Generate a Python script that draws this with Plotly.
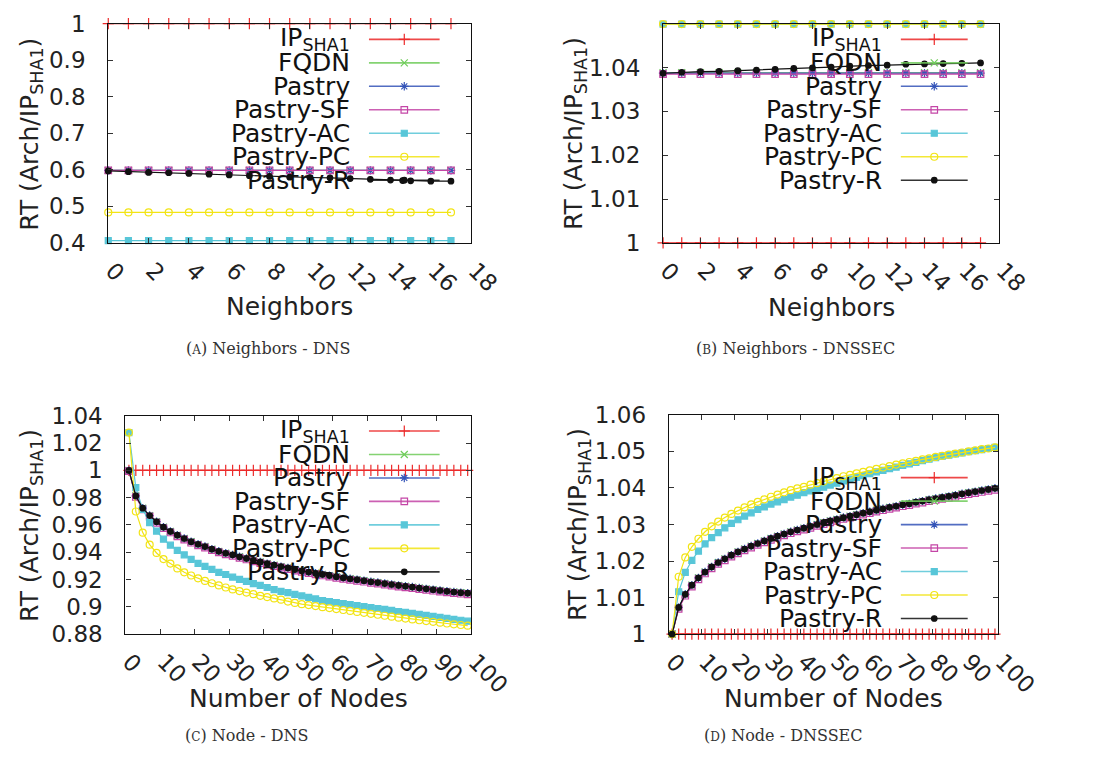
import plotly.graph_objects as go

W, H = 1109, 765

# ---------------- data ----------------
series_names = ["IP<sub>SHA1</sub>", "FQDN", "Pastry", "Pastry-SF", "Pastry-AC", "Pastry-PC", "Pastry-R"]

neighbors = [0, 1, 2, 3, 4, 5, 6, 7, 8, 9, 10, 11, 12, 13, 14, 15, 16, 17]
neighbors_r = [0, 1, 2, 3, 4, 5, 6, 7, 8, 9, 10, 11, 12, 13, 14, 14.6, 15, 16, 17]

# (a) Neighbors - DNS
a_ip = [1.0, 1.0, 1.0, 1.0, 1.0, 1.0, 1.0, 1.0, 1.0, 1.0, 1.0, 1.0, 1.0, 1.0, 1.0, 1.0, 1.0, 1.0]
a_pastry = [0.5985, 0.5985, 0.5985, 0.5985, 0.5985, 0.5985, 0.5985, 0.5985, 0.5985,
            0.5985, 0.5985, 0.5985, 0.5985, 0.5985, 0.5985, 0.5985, 0.5985, 0.5985]
a_ac = [0.406, 0.406, 0.406, 0.406, 0.406, 0.406, 0.406, 0.406, 0.406,
        0.406, 0.406, 0.406, 0.406, 0.406, 0.406, 0.406, 0.406, 0.406]
a_pc = [0.4835, 0.4835, 0.4835, 0.4835, 0.4835, 0.4835, 0.4835, 0.4835, 0.4835,
        0.4835, 0.4835, 0.4835, 0.4835, 0.4835, 0.4835, 0.4835, 0.4835, 0.4835]
a_r = [0.597, 0.595, 0.593, 0.592, 0.590, 0.588, 0.586, 0.584, 0.582, 0.580,
       0.579, 0.578, 0.576, 0.574, 0.572, 0.5705, 0.570, 0.569, 0.569]

# (b) Neighbors - DNSSEC
b_ip = [1.0, 1.0, 1.0, 1.0, 1.0, 1.0, 1.0, 1.0, 1.0, 1.0, 1.0, 1.0, 1.0, 1.0, 1.0, 1.0, 1.0, 1.0]
b_fqdn = [1.0388, 1.0388, 1.0388, 1.0388, 1.0388, 1.0388, 1.0388, 1.0388, 1.0388,
          1.0388, 1.0388, 1.0388, 1.0388, 1.0388, 1.0388, 1.0388, 1.0388, 1.0388]
b_pastry = [1.0387, 1.0387, 1.0387, 1.0387, 1.0387, 1.0387, 1.0387, 1.0387, 1.0387,
            1.0387, 1.0387, 1.0387, 1.0387, 1.0387, 1.0387, 1.0387, 1.0387, 1.0387]
b_sf = [1.0385, 1.0385, 1.0385, 1.0385, 1.0385, 1.0385, 1.0385, 1.0385, 1.0385,
        1.0385, 1.0385, 1.0385, 1.0385, 1.0385, 1.0385, 1.0385, 1.0385, 1.0385]
b_acpc = [1.0499, 1.0499, 1.0499, 1.0499, 1.0499, 1.0499, 1.0499, 1.0499, 1.0499,
          1.0499, 1.0499, 1.0499, 1.0499, 1.0499, 1.0499, 1.0499, 1.0499, 1.0499]
b_r = [1.03869, 1.03891, 1.03905, 1.03913, 1.03927, 1.03942, 1.03957, 1.03979, 1.03993,
       1.04008, 1.04030, 1.04045, 1.04052, 1.04074, 1.04081, 1.04089, 1.04096, 1.04103]

nodes = [1, 3, 5, 7, 9, 11, 13, 15, 17, 19, 21, 23, 25, 27, 29, 31, 33, 35, 37, 39,
         41, 43, 45, 47, 49, 51, 53, 55, 57, 59, 61, 63, 65, 67, 69, 71, 73, 75, 77, 79,
         81, 83, 85, 87, 89, 91, 93, 95, 97, 99]

# (c) Node - DNS
c_ip = [1.0, 1.0, 1.0, 1.0, 1.0, 1.0, 1.0, 1.0, 1.0, 1.0,
        1.0, 1.0, 1.0, 1.0, 1.0, 1.0, 1.0, 1.0, 1.0, 1.0,
        1.0, 1.0, 1.0, 1.0, 1.0, 1.0, 1.0, 1.0, 1.0, 1.0,
        1.0, 1.0, 1.0, 1.0, 1.0, 1.0, 1.0, 1.0, 1.0, 1.0,
        1.0, 1.0, 1.0, 1.0, 1.0, 1.0, 1.0, 1.0, 1.0, 1.0]
c_pastry = [1.0000, 0.9813, 0.9723, 0.9669, 0.9624, 0.9584, 0.9553, 0.9525, 0.9501, 0.9478,
            0.9459, 0.9442, 0.9423, 0.9407, 0.9393, 0.9381, 0.9367, 0.9355, 0.9341, 0.9329,
            0.9317, 0.9306, 0.9295, 0.9285, 0.9273, 0.9264, 0.9255, 0.9246, 0.9238, 0.9229,
            0.9221, 0.9213, 0.9206, 0.9199, 0.9192, 0.9184, 0.9178, 0.9171, 0.9164, 0.9157,
            0.9151, 0.9145, 0.9138, 0.9132, 0.9126, 0.9120, 0.9114, 0.9109, 0.9104, 0.9100]
c_sf = [0.9995, 0.9805, 0.9715, 0.9661, 0.9616, 0.9576, 0.9545, 0.9517, 0.9493, 0.9470,
        0.9451, 0.9434, 0.9415, 0.9399, 0.9385, 0.9373, 0.9359, 0.9347, 0.9333, 0.9321,
        0.9309, 0.9298, 0.9287, 0.9277, 0.9265, 0.9256, 0.9247, 0.9238, 0.9230, 0.9221,
        0.9213, 0.9205, 0.9198, 0.9191, 0.9184, 0.9176, 0.9170, 0.9163, 0.9156, 0.9149,
        0.9143, 0.9137, 0.9130, 0.9124, 0.9118, 0.9112, 0.9106, 0.9101, 0.9096, 0.9092]
c_ac = [1.0277, 0.9874, 0.9715, 0.9617, 0.9555, 0.9496, 0.9452, 0.9414, 0.9381, 0.9348,
        0.9319, 0.9296, 0.9275, 0.9253, 0.9237, 0.9218, 0.9201, 0.9187, 0.9171, 0.9157,
        0.9142, 0.9126, 0.9114, 0.9104, 0.9091, 0.9080, 0.9069, 0.9058, 0.9046, 0.9039,
        0.9031, 0.9024, 0.9017, 0.9010, 0.9002, 0.8995, 0.8988, 0.8981, 0.8974, 0.8966,
        0.8959, 0.8952, 0.8945, 0.8938, 0.8930, 0.8923, 0.8916, 0.8909, 0.8902, 0.8895]
c_pc = [1.0277, 0.9699, 0.9544, 0.9456, 0.9395, 0.9350, 0.9317, 0.9282, 0.9253, 0.9230,
        0.9209, 0.9190, 0.9173, 0.9157, 0.9142, 0.9128, 0.9116, 0.9105, 0.9093, 0.9081,
        0.9072, 0.9062, 0.9053, 0.9039, 0.9029, 0.9020, 0.9013, 0.9006, 0.8998, 0.8991,
        0.8984, 0.8977, 0.8970, 0.8963, 0.8956, 0.8949, 0.8942, 0.8935, 0.8928, 0.8921,
        0.8914, 0.8908, 0.8902, 0.8896, 0.8890, 0.8884, 0.8878, 0.8872, 0.8867, 0.8862]

# (d) Node - DNSSEC
d_ip = c_ip
d_pastry = [1.0000, 1.0073, 1.0109, 1.0134, 1.0154, 1.0170, 1.0184, 1.0196, 1.0206, 1.0216,
            1.0225, 1.0233, 1.0241, 1.0248, 1.0255, 1.0262, 1.0268, 1.0274, 1.0280, 1.0285,
            1.0290, 1.0295, 1.0300, 1.0305, 1.0310, 1.0314, 1.0319, 1.0323, 1.0327, 1.0331,
            1.0335, 1.0339, 1.0343, 1.0347, 1.0350, 1.0354, 1.0357, 1.0361, 1.0364, 1.0368,
            1.0371, 1.0374, 1.0377, 1.0380, 1.0384, 1.0387, 1.0390, 1.0393, 1.0396, 1.0399]
d_sf = [1.0000, 1.0069, 1.0105, 1.0130, 1.0150, 1.0166, 1.0180, 1.0192, 1.0202, 1.0212,
        1.0221, 1.0229, 1.0237, 1.0244, 1.0251, 1.0258, 1.0264, 1.0270, 1.0276, 1.0281,
        1.0286, 1.0291, 1.0296, 1.0301, 1.0306, 1.0310, 1.0315, 1.0319, 1.0323, 1.0327,
        1.0331, 1.0335, 1.0339, 1.0343, 1.0346, 1.0350, 1.0353, 1.0357, 1.0360, 1.0364,
        1.0367, 1.0370, 1.0373, 1.0376, 1.0380, 1.0383, 1.0386, 1.0389, 1.0392, 1.0395]
d_ac = [1.0000, 1.0116, 1.0169, 1.0202, 1.0227, 1.0247, 1.0264, 1.0278, 1.0291, 1.0303,
        1.0313, 1.0323, 1.0332, 1.0341, 1.0348, 1.0356, 1.0362, 1.0368, 1.0375, 1.0380,
        1.0387, 1.0392, 1.0397, 1.0402, 1.0408, 1.0413, 1.0419, 1.0424, 1.0429, 1.0434,
        1.0439, 1.0444, 1.0448, 1.0453, 1.0457, 1.0462, 1.0466, 1.0470, 1.0475, 1.0479,
        1.0483, 1.0487, 1.0490, 1.0493, 1.0496, 1.0499, 1.0502, 1.0505, 1.0508, 1.0511]
d_pc = [1.0000, 1.0157, 1.0210, 1.0239, 1.0261, 1.0280, 1.0295, 1.0308, 1.0319, 1.0329,
        1.0338, 1.0347, 1.0355, 1.0362, 1.0369, 1.0376, 1.0382, 1.0388, 1.0394, 1.0399,
        1.0403, 1.0409, 1.0413, 1.0418, 1.0423, 1.0427, 1.0432, 1.0436, 1.0440, 1.0444,
        1.0448, 1.0452, 1.0456, 1.0460, 1.0464, 1.0467, 1.0471, 1.0474, 1.0478, 1.0481,
        1.0485, 1.0488, 1.0491, 1.0494, 1.0497, 1.0500, 1.0503, 1.0506, 1.0508, 1.0511]

a_ticks = [0.4, 0.5, 0.6, 0.7, 0.8, 0.9, 1.0]
a_ticktext = ["0.4", "0.5", "0.6", "0.7", "0.8", "0.9", "1"]
b_ticks = [1.0, 1.01, 1.02, 1.03, 1.04]
b_ticktext = ["1", "1.01", "1.02", "1.03", "1.04"]
c_ticks = [0.88, 0.90, 0.92, 0.94, 0.96, 0.98, 1.0, 1.02, 1.04]
c_ticktext = ["0.88", "0.9", "0.92", "0.94", "0.96", "0.98", "1", "1.02", "1.04"]
d_ticks = [1.0, 1.01, 1.02, 1.03, 1.04, 1.05, 1.06]
d_ticktext = ["1", "1.01", "1.02", "1.03", "1.04", "1.05", "1.06"]

captions = ["(<span style='font-size:12px'>A</span>) Neighbors - DNS",
            "(<span style='font-size:12px'>B</span>) Neighbors - DNSSEC",
            "(<span style='font-size:12px'>C</span>) Node - DNS",
            "(<span style='font-size:12px'>D</span>) Node - DNSSEC"]

# ---------------- styles ----------------
COLORS = ["#ec2a2a", "#6fcc5a", "#3454b8", "#c445a6", "#58c6d8", "#f2e414", "#111111"]
SYMBOLS = ["cross-thin-open", "x-thin-open", "asterisk-open", "square-open", "square", "circle-open", "circle"]
SIZES = [8, 7, 7, 6.5, 6, 7, 5.5]
FONT = "DejaVu Sans"


def marker(i):
    c = COLORS[i]
    return dict(symbol=SYMBOLS[i], size=SIZES[i], color=c, line=dict(color=c, width=1.2))


# panel boxes in pixels (left, top, right, bottom)
BOXES = [(105, 11, 485, 238), (686, 11, 1038, 238), (123, 417, 485, 643), (692, 416, 1037, 643)]

fig = go.Figure()

panel_data = [
    (neighbors, [a_ip, a_pastry, a_pastry, a_pastry, a_ac, a_pc], neighbors_r, a_r),
    (neighbors, [b_ip, b_fqdn, b_pastry, b_sf, b_acpc, b_acpc], neighbors, b_r),
    (nodes, [c_ip, c_pastry, c_pastry, c_sf, c_ac, c_pc], nodes, c_pastry),
    (nodes, [d_ip, d_pastry, d_pastry, d_sf, d_ac, d_pc], nodes, d_pastry),
]

for p, (xs, ys_list, rx, ry) in enumerate(panel_data):
    xa = "x" if p == 0 else f"x{p+1}"
    ya = "y" if p == 0 else f"y{p+1}"
    for i, ys in enumerate(ys_list):
        fig.add_trace(go.Scatter(x=xs, y=ys, mode="lines+markers", xaxis=xa, yaxis=ya,
                                 line=dict(color=COLORS[i], width=1.2), marker=marker(i),
                                 cliponaxis=False, showlegend=False, hoverinfo="skip"))
    fig.add_trace(go.Scatter(x=rx, y=ry, mode="lines+markers", xaxis=xa, yaxis=ya,
                             line=dict(color=COLORS[6], width=1.2), marker=marker(6),
                             cliponaxis=False, showlegend=False, hoverinfo="skip"))

# ---------------- axes ----------------
def dom(box):
    l, t, r, b = box
    return [l / W, r / W], [1 - b / H, 1 - t / H]


axis_common = dict(showline=True, linecolor="#111", linewidth=1.3, mirror="ticks",
                   ticks="inside", ticklen=5, tickcolor="#333", tickwidth=1,
                   showgrid=False, zeroline=False,
                   tickfont=dict(family=FONT, size=23, color="#222"))

xranges = [[0, 18], [0, 18], [0, 100], [0, 100]]
xdticks = [2, 2, 10, 10]
yranges = [[0.4, 1.0], [1.0, 1.05], [0.88, 1.04], [1.0, 1.06]]
yticks = [(a_ticks, a_ticktext), (b_ticks, b_ticktext), (c_ticks, c_ticktext), (d_ticks, d_ticktext)]

layout = dict(width=W, height=H, margin=dict(l=0, r=0, t=0, b=0), autosize=False,
              paper_bgcolor="white", plot_bgcolor="rgba(0,0,0,0)", showlegend=False)
for p in range(4):
    xd, yd = dom(BOXES[p])
    sfx = "" if p == 0 else str(p + 1)
    layout["xaxis" + sfx] = dict(axis_common, domain=xd, range=xranges[p], anchor="y" + sfx,
                                 tick0=0, dtick=xdticks[p], tickangle=45,
                                 ticklabelstandoff=4, ticklabelshift=4)
    layout["yaxis" + sfx] = dict(axis_common, domain=yd, range=yranges[p], anchor="x" + sfx,
                                 tickvals=yticks[p][0], ticktext=yticks[p][1], ticklabelstandoff=17)

# overlay pixel axes for the gnuplot-style keys
layout["xaxis5"] = dict(domain=[0, 1], range=[0, W], anchor="y5", visible=False, fixedrange=True)
layout["yaxis5"] = dict(domain=[0, 1], range=[H, 0], anchor="x5", visible=False, fixedrange=True)

fig.update_layout(**layout)

# key layout (pixels): text right edge, sample x0, x1, marker x, first row y, row step
KEYS = [(360, 378, 452, 415, 27.3, 24.3),
        (917, 935, 1005, 970, 27.3, 24.3),
        (360, 378, 452, 415, 432.7, 24.3),
        (917, 935, 1005, 970, 481.0, 24.3)]

annotations = []
for p, (tx, x0, x1, xm, y0, dy) in enumerate(KEYS):
    for i, name in enumerate(series_names):
        yy = y0 + i * dy
        fig.add_trace(go.Scatter(x=[x0, x1], y=[yy, yy], mode="lines", xaxis="x5", yaxis="y5",
                                 line=dict(color=COLORS[i], width=1.6), showlegend=False,
                                 hoverinfo="skip", opacity=0.85))
        fig.add_trace(go.Scatter(x=[xm], y=[yy], mode="markers", xaxis="x5", yaxis="y5",
                                 marker=marker(i), showlegend=False, hoverinfo="skip"))
        annotations.append(dict(x=tx / W, y=1 - yy / H, xref="paper", yref="paper",
                                text=name, showarrow=False, xanchor="right", yanchor="middle",
                                font=dict(family=FONT, size=25, color="#111")))

# axis titles
ytitle = "RT (Arch/IP<sub>SHA1</sub>)"
for (cx, cy) in [(24, 125), (593, 125), (24, 530), (598, 530)]:
    annotations.append(dict(x=cx / W, y=1 - cy / H, xref="paper", yref="paper", text=ytitle,
                            textangle=-90, showarrow=False, xanchor="center", yanchor="middle",
                            font=dict(family=FONT, size=25, color="#222")))
for (cx, cy, t) in [(295, 304, "Neighbors"), (862, 305, "Neighbors"),
                    (304, 710, "Number of Nodes"), (864, 710, "Number of Nodes")]:
    annotations.append(dict(x=cx / W, y=1 - cy / H, xref="paper", yref="paper", text=t,
                            showarrow=False, xanchor="center", yanchor="middle",
                            font=dict(family=FONT, size=25, color="#222")))
for (cx, cy), t in zip([(272, 347), (825, 347), (250, 748), (812, 748)], captions):
    annotations.append(dict(x=cx / W, y=1 - cy / H, xref="paper", yref="paper", text=t,
                            showarrow=False, xanchor="center", yanchor="middle",
                            font=dict(family="DejaVu Serif", size=16, color="#333")))

fig.update_layout(annotations=annotations)
fig.write_html("out.html")

# remove the browser's default page margin so the figure sits at the window origin
with open("out.html", "r", encoding="utf-8") as fh:
    page = fh.read()
page = page.replace("<head>", "<head><style>html,body{margin:0;padding:0;overflow:hidden;}</style>", 1)
with open("out.html", "w", encoding="utf-8") as fh:
    fh.write(page)
